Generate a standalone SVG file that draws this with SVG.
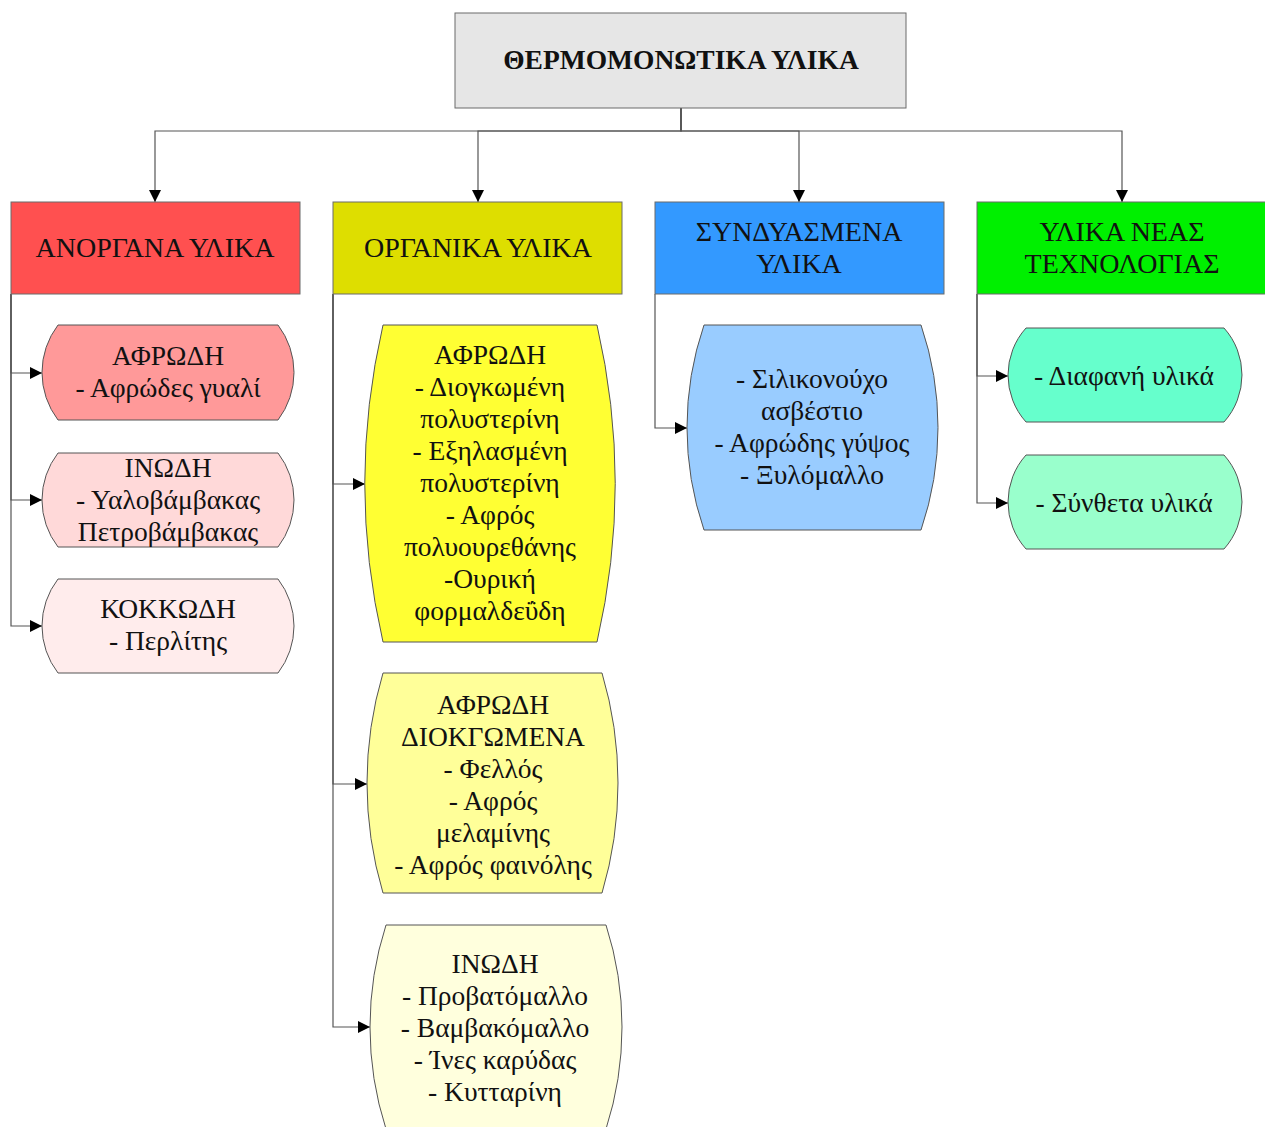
<svg xmlns="http://www.w3.org/2000/svg" width="1265" height="1127" viewBox="0 0 1265 1127">
  <defs>
    <style>
      text { font-family: "Liberation Serif", "Times New Roman", serif; font-size: 27.5px; fill: #111; text-anchor: middle; }
      .title { font-weight: bold; font-size: 27.5px; }
      .head { font-size: 28px; }
      .box { stroke: #6b6b6b; stroke-width: 1; }
      .shape { stroke: #555; stroke-width: 1; }
      .conn { fill: none; stroke: #555; stroke-width: 1.2; marker-end: url(#arrow); }
    </style>
    <marker id="arrow" viewBox="0 0 12 12" markerWidth="12" markerHeight="12" markerUnits="userSpaceOnUse" refX="12" refY="6" orient="auto">
      <path d="M0,0 L12,6 L0,12 Z" fill="#000"/>
    </marker>
  </defs>
  <rect width="1265" height="1127" fill="#fff"/>

  <!-- connectors -->
  <g id="connectors">
    <path class="conn" d="M681,108 V131 H155 V202"/>
    <path class="conn" d="M681,108 V131 H478 V202"/>
    <path class="conn" d="M681,108 V131 H799 V202"/>
    <path class="conn" d="M681,108 V131 H1122 V202"/>
    <path class="conn" d="M11,294 V373 H42"/>
    <path class="conn" d="M11,294 V500 H42"/>
    <path class="conn" d="M11,294 V626 H42"/>
    <path class="conn" d="M333,294 V484 H365"/>
    <path class="conn" d="M333,294 V784 H367"/>
    <path class="conn" d="M333,294 V1027 H370"/>
    <path class="conn" d="M655,294 V428 H687"/>
    <path class="conn" d="M977,294 V376 H1008"/>
    <path class="conn" d="M977,294 V503 H1008"/>
  </g>

  <!-- root -->
  <g id="root">
    <rect class="box" x="455" y="13" width="451" height="95" fill="#e6e6e6"/>
    <text class="title" x="681" y="69">ΘΕΡΜΟΜΟΝΩΤΙΚΑ ΥΛΙΚΑ</text>
  </g>

  <!-- category headers -->
  <g id="inorganic">
    <rect class="box" x="11" y="202" width="289" height="92" fill="#ff5050"/>
    <text class="head" x="155" y="257">ΑΝΟΡΓΑΝΑ ΥΛΙΚΑ</text>
  </g>
  <g id="organic">
    <rect class="box" x="333" y="202" width="289" height="92" fill="#dede00"/>
    <text class="head" x="478" y="257">ΟΡΓΑΝΙΚΑ ΥΛΙΚΑ</text>
  </g>
  <g id="composite">
    <rect class="box" x="655" y="202" width="289" height="92" fill="#3399ff"/>
    <text class="head" x="799" y="241">ΣΥΝΔΥΑΣΜΕΝΑ</text>
    <text class="head" x="799" y="273">ΥΛΙΚΑ</text>
  </g>
  <g id="new-tech">
    <rect class="box" x="977" y="202" width="300" height="92" fill="#00f000"/>
    <text class="head" x="1122" y="241">ΥΛΙΚΑ ΝΕΑΣ</text>
    <text class="head" x="1122" y="273">ΤΕΧΝΟΛΟΓΙΑΣ</text>
  </g>

  <!-- inorganic items -->
  <g id="inorganic-foam">
    <path class="shape" fill="#ff9999" d="M58,325 H278 A78.5,78.5 0 0 1 278,420 H58 A78.5,78.5 0 0 1 58,325 Z"/>
    <text x="168" y="365">ΑΦΡΩΔΗ</text>
    <text x="168" y="397">- Αφρώδες γυαλί</text>
  </g>
  <g id="inorganic-fibrous">
    <path class="shape" fill="#ffd9d9" d="M58,453 H278 A77,77 0 0 1 278,547 H58 A77,77 0 0 1 58,453 Z"/>
    <text x="168" y="477">ΙΝΩΔΗ</text>
    <text x="168" y="509">- Υαλοβάμβακας</text>
    <text x="168" y="541">Πετροβάμβακας</text>
  </g>
  <g id="inorganic-granular">
    <path class="shape" fill="#ffecec" d="M58,579 H278 A77,77 0 0 1 278,673 H58 A77,77 0 0 1 58,579 Z"/>
    <text x="168" y="618">ΚΟΚΚΩΔΗ</text>
    <text x="168" y="650">- Περλίτης</text>
  </g>

  <!-- organic items -->
  <g id="organic-foam">
    <path class="shape" fill="#ffff33" d="M383,325 H597 A706.8,706.8 0 0 1 597,642 H383 A706.8,706.8 0 0 1 383,325 Z"/>
    <text x="490" y="364">ΑΦΡΩΔΗ</text>
    <text x="490" y="396">- Διογκωμένη</text>
    <text x="490" y="428">πολυστερίνη</text>
    <text x="490" y="460">- Εξηλασμένη</text>
    <text x="490" y="492">πολυστερίνη</text>
    <text x="490" y="524">- Αφρός</text>
    <text x="490" y="556">πολυουρεθάνης</text>
    <text x="490" y="588">-Ουρική</text>
    <text x="490" y="620">φορμαλδεΰδη</text>
  </g>
  <g id="organic-expanded">
    <path class="shape" fill="#ffff99" d="M383,673 H602 A386,386 0 0 1 602,893 H383 A386,386 0 0 1 383,673 Z"/>
    <text x="493" y="714">ΑΦΡΩΔΗ</text>
    <text x="493" y="746">ΔΙΟΚΓΩΜΕΝΑ</text>
    <text x="493" y="778">- Φελλός</text>
    <text x="493" y="810">- Αφρός</text>
    <text x="493" y="842">μελαμίνης</text>
    <text x="493" y="874">- Αφρός φαινόλης</text>
  </g>
  <g id="organic-fibrous">
    <path class="shape" fill="#ffffdd" d="M386,925 H606 A333,333 0 0 1 606,1129 H386 A333,333 0 0 1 386,925 Z"/>
    <text x="495" y="973">ΙΝΩΔΗ</text>
    <text x="495" y="1005">- Προβατόμαλλο</text>
    <text x="495" y="1037">- Βαμβακόμαλλο</text>
    <text x="495" y="1069">- Ίνες καρύδας</text>
    <text x="495" y="1101">- Κυτταρίνη</text>
  </g>

  <!-- composite items -->
  <g id="composite-items">
    <path class="shape" fill="#99ccff" d="M704,325 H921 A317.5,317.5 0 0 1 921,530 H704 A317.5,317.5 0 0 1 704,325 Z"/>
    <text x="812" y="388">- Σιλικονούχο</text>
    <text x="812" y="420">ασβέστιο</text>
    <text x="812" y="452">- Αφρώδης γύψος</text>
    <text x="812" y="484">- Ξυλόμαλλο</text>
  </g>

  <!-- new technology items -->
  <g id="transparent">
    <path class="shape" fill="#66ffcc" d="M1026,328 H1224 A70.4,70.4 0 0 1 1224,422 H1026 A70.4,70.4 0 0 1 1026,328 Z"/>
    <text x="1124" y="385">- Διαφανή υλικά</text>
  </g>
  <g id="synthetic">
    <path class="shape" fill="#99ffcc" d="M1026,455 H1224 A70.4,70.4 0 0 1 1224,549 H1026 A70.4,70.4 0 0 1 1026,455 Z"/>
    <text x="1124" y="512">- Σύνθετα υλικά</text>
  </g>
</svg>
